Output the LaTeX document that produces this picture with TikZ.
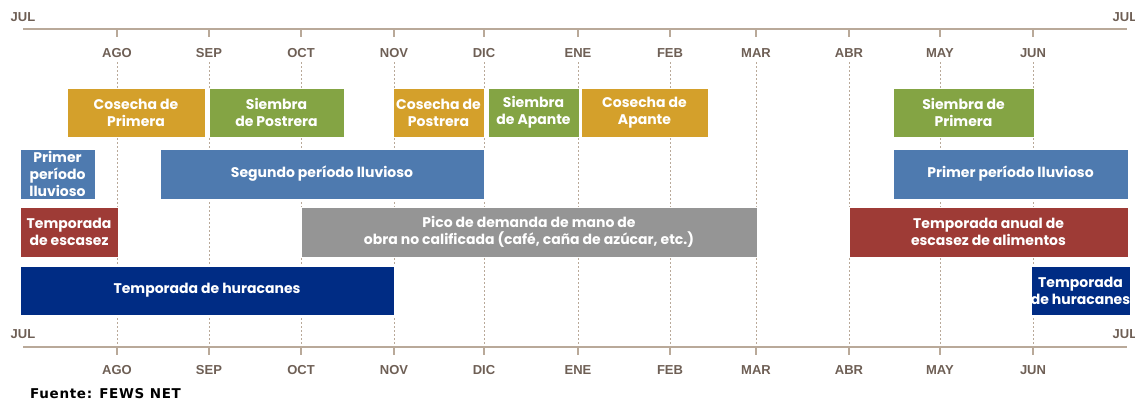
\documentclass[tikz,border=0pt]{standalone}
\usepackage{fontspec}
\newfontfamily\boxfont{Poppins}
\newfontfamily\monthfont{Liberation Sans}
\newfontfamily\srcfont[LetterSpace=5]{DejaVu Sans}
\definecolor{cgold}{HTML}{D4A02B}
\definecolor{cgreen}{HTML}{84A444}
\definecolor{cblue}{HTML}{4E7AAF}
\definecolor{cred}{HTML}{9E3B36}
\definecolor{cgray}{HTML}{959595}
\definecolor{cnavy}{HTML}{002C84}
\definecolor{axis}{HTML}{B9A999}
\definecolor{mtext}{HTML}{6E5F55}
\tikzset{
  box/.style={draw=white, line width=0.6pt, text=white, align=center, inner sep=0pt,
    font=\boxfont\fontsize{14}{17}\selectfont\bfseries},
  month/.style={text=mtext, font=\monthfont\fontsize{13}{15}\selectfont\bfseries, inner sep=0pt},
  axisline/.style={draw=axis, line width=1.6pt},
  tick/.style={draw=axis, line width=1.2pt},
  guide/.style={draw=axis, line width=0.7pt, dash pattern=on 2pt off 2pt},
}
\newcommand\mybox[7]{\node[box, fill=#2, minimum width={(#4-#3)*1pt}, minimum height={(#6-#5)*1pt}] (#1) at ({(#3+#4)/2},{(#5+#6)/2}) {#7};}
\begin{document}
\begin{tikzpicture}[x=1pt,y=-1pt]
\useasboundingbox (0,0) rectangle (1135,402);
% month positions
\def\months{AGO/117,SEP/209,OCT/301,NOV/394,DIC/484,ENE/578,FEB/670,MAR/756,ABR/849,MAY/940,JUN/1033}
% guides
\foreach \m/\x in \months {
  \coordinate (g\m) at (\x,62);
  \coordinate (h\m) at (\x,344);
  \draw[guide] (g\m) -- (h\m);
}
% top axis
\coordinate (tl) at (23,29);
\coordinate (tr) at (1127,29);
\draw[axisline] (tl) -- (tr);
\node[month] (jultop) at (23,17) {JUL};
\node[month] (jultopr) at (1125,17) {JUL};
\foreach \m/\x in \months {
  \coordinate (t\m) at (\x,29);
  \coordinate (u\m) at (\x,37);
  \draw[tick] (t\m) -- (u\m);
  \node[month] (top\m) at (\x,53) {\m};
}
% bottom axis
\coordinate (bl) at (23,347);
\coordinate (br) at (1127,347);
\draw[axisline] (bl) -- (br);
\node[month] (julbot) at (23,334) {JUL};
\node[month] (julbotr) at (1125,334) {JUL};
\foreach \m/\x in \months {
  \coordinate (b\m) at (\x,347);
  \coordinate (c\m) at (\x,355);
  \draw[tick] (b\m) -- (c\m);
  \node[month] (bot\m) at (\x,370) {\m};
}
% row 1
\mybox{cp}{cgold}{67}{205}{88}{137}{Cosecha de\\Primera}
\mybox{sp}{cgreen}{209}{344}{88}{137}{Siembra\\de Postrera}
\mybox{cpo}{cgold}{393}{484}{88}{137}{Cosecha de\\Postrera}
\mybox{sa}{cgreen}{488}{579}{88}{137}{Siembra\\de Apante}
\mybox{ca}{cgold}{581}{708}{88}{137}{Cosecha de\\Apante}
\mybox{spr}{cgreen}{893}{1034}{88}{137}{Siembra de\\Primera}
% row 2
\mybox{ppl}{cblue}{20}{95}{149}{199}{Primer\\período\\lluvioso}
\mybox{spl}{cblue}{160}{484}{149}{199}{Segundo período lluvioso}
\mybox{pplr}{cblue}{893}{1128}{149}{199}{Primer período lluvioso}
% row 3
\mybox{te}{cred}{20}{118}{207}{257}{Temporada\\de escasez}
\mybox{pd}{cgray}{301}{757}{207}{257}{Pico de demanda de mano de\\obra no calificada (café, caña de azúcar, etc.)}
\mybox{ta}{cred}{849}{1128}{207}{257}{Temporada anual de\\escasez de alimentos}
% row 4
\mybox{th}{cnavy}{20}{394}{266}{315}{Temporada de huracanes}
\mybox{thr}{cnavy}{1033}{1128}{266}{315}{Temporada\\de huracanes}
% source
\node[anchor=west, inner sep=0pt, font=\srcfont\fontsize{13.5}{16}\selectfont\bfseries] (src) at (30,394) {Fuente: FEWS NET};
\end{tikzpicture}
\end{document}
